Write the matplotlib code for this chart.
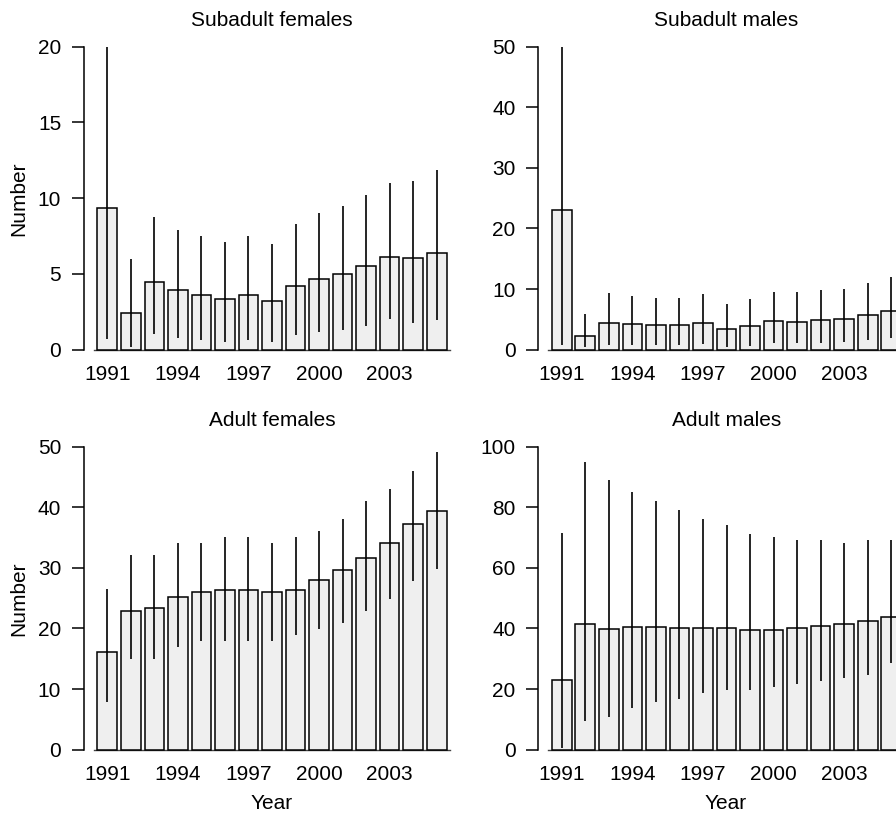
import numpy as np
import matplotlib
matplotlib.use('Agg')
import matplotlib.pyplot as plt

plt.rcParams['font.family'] = ['Liberation Sans', 'DejaVu Sans']
plt.rcParams['font.size'] = 15

years = np.arange(1991, 2006)
tick_years = [1991, 1994, 1997, 2000, 2003]

# subadult females
sf_est = [9.33, 2.44, 4.44, 3.92, 3.63, 3.32, 3.59, 3.21, 4.18, 4.66, 4.99, 5.52, 6.12, 6.05, 6.40]
sf_lo = [0.68, 0.15, 1.01, 0.79, 0.64, 0.53, 0.64, 0.48, 0.97, 1.14, 1.30, 1.58, 2.00, 1.78, 1.96]
sf_hi = [20.0, 5.98, 8.78, 7.92, 7.52, 7.11, 7.52, 6.95, 8.27, 9.00, 9.50, 10.21, 10.98, 11.13, 11.84]

# subadult males
sm_est = [23.05, 2.26, 4.46, 4.24, 4.13, 4.13, 4.46, 3.41, 3.96, 4.68, 4.62, 4.90, 5.06, 5.78, 6.33]
sm_lo = [0.77, 0.50, 0.77, 0.77, 0.77, 0.77, 0.88, 0.50, 0.66, 1.05, 1.05, 1.16, 1.27, 1.60, 1.87]
sm_hi = [50.0, 5.89, 9.35, 8.86, 8.58, 8.58, 9.24, 7.59, 8.42, 9.46, 9.57, 9.79, 10.07, 11.06, 11.94]

# adult females
af_est = [16.17, 22.88, 23.32, 25.14, 26.02, 26.40, 26.29, 25.96, 26.40, 28.00, 29.59, 31.68, 34.05, 37.18, 39.33]
af_lo = [7.92, 14.90, 14.90, 16.89, 17.88, 17.88, 17.88, 17.88, 18.87, 19.86, 20.90, 22.88, 24.86, 27.89, 29.87]
af_hi = [26.46, 32.07, 32.07, 34.05, 34.05, 35.09, 35.09, 34.05, 35.09, 36.03, 38.06, 41.03, 43.01, 46.04, 49.06]

# adult males
am_est = [22.99, 41.58, 39.93, 40.37, 40.37, 40.26, 40.04, 40.04, 39.49, 39.49, 40.15, 40.70, 41.47, 42.35, 43.67]
am_lo = [0.66, 9.57, 10.67, 13.64, 15.62, 16.61, 18.59, 19.58, 19.58, 20.57, 21.56, 22.55, 23.65, 24.64, 28.71]
am_hi = [71.4, 95.05, 89.1, 85.15, 82.07, 79.1, 76.13, 74.04, 71.07, 70.19, 69.09, 69.09, 68.1, 69.09, 69.09]

fig = plt.figure(figsize=(8.96, 8.15), dpi=100)

W = 896.
H = 815.
panels = [
    ('Subadult females', sf_est, sf_lo, sf_hi, 20, 5, 83.5, 361.8),
    ('Subadult males', sm_est, sm_lo, sm_hi, 50, 10, 538.0, 361.8),
    ('Adult females', af_est, af_lo, af_hi, 50, 10, 83.5, 761.8),
    ('Adult males', am_est, am_lo, am_hi, 100, 20, 538.0, 761.8),
]

x = np.arange(len(years))
for title, est, lo, hi, ymax, step, px, pb in panels:
    ax = fig.add_axes([px / W, 1 - pb / H, 377. / W, 327.2 / H])
    ax.bar(x, est, width=1 / 1.2, color='#efefef', edgecolor='black', linewidth=1.1, zorder=2)
    ax.vlines(x, lo, hi, color='black', linewidth=1.2, zorder=3)
    ax.plot([-0.57, 14.57], [0, 0], color='#444444', linewidth=1.0, zorder=1)
    ax.set_xlim(-1.01, 15.01)
    ax.set_ylim(-0.04 * ymax, 1.04 * ymax)
    for s in ['top', 'right', 'bottom']:
        ax.spines[s].set_visible(False)
    ax.spines['left'].set_bounds(0, ymax)
    ax.spines['left'].set_linewidth(1.1)
    ax.set_yticks(np.arange(0, ymax + 1, step))
    ax.set_xticks([list(years).index(y) for y in tick_years])
    ax.set_xticklabels([str(y) for y in tick_years])
    ax.tick_params(axis='x', length=0, pad=2.5)
    ax.tick_params(axis='y', length=8.6, width=1.1, pad=7.5)
    ax.patch.set_visible(False)
    ax.set_title(title, fontsize=15, pad=6.2)

fig.text(24 / W, 1 - 198.5 / H, 'Number', rotation=90, rotation_mode='anchor',
         ha='center', va='baseline', fontsize=15)
fig.text(24 / W, 1 - 598.5 / H, 'Number', rotation=90, rotation_mode='anchor',
         ha='center', va='baseline', fontsize=15)
fig.text(272 / W, 1 - 809.3 / H, 'Year', ha='center', va='baseline', fontsize=15)
fig.text(726 / W, 1 - 809.3 / H, 'Year', ha='center', va='baseline', fontsize=15)

fig.savefig('out.png', dpi=100)
